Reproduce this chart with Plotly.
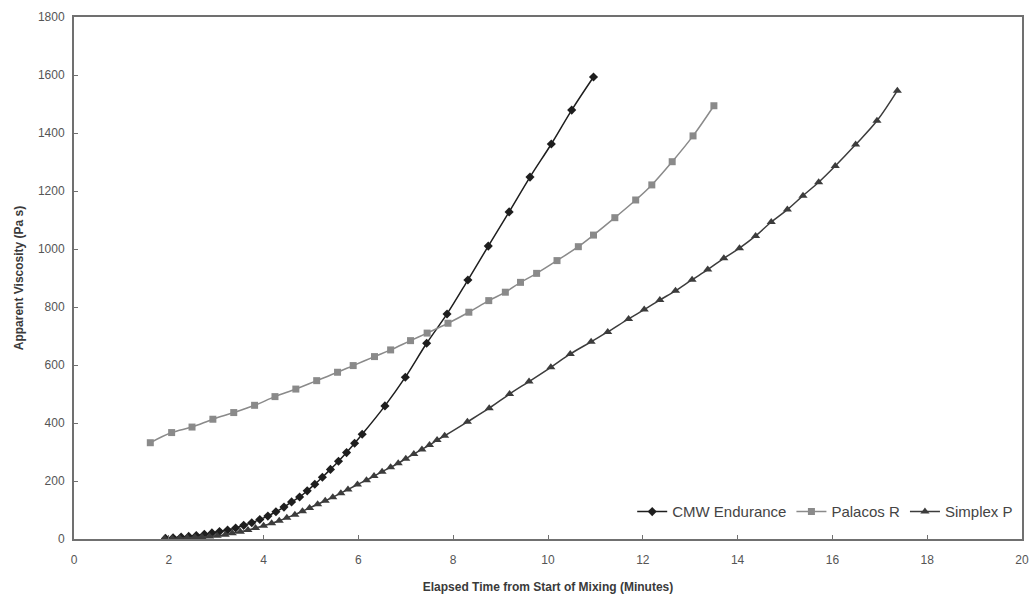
import plotly.graph_objects as go

# CMW Endurance
cmw_x = [1.93, 2.09, 2.26, 2.42, 2.58, 2.75, 2.91, 3.07, 3.24, 3.41, 3.58, 3.75, 3.92,
         4.09, 4.26, 4.43, 4.59, 4.76, 4.92, 5.08, 5.24, 5.41, 5.58, 5.75, 5.92, 6.08,
         6.56, 6.99, 7.44, 7.87, 8.31, 8.74, 9.18, 9.62, 10.07, 10.50, 10.96]
cmw_y = [2, 4, 7, 9, 12, 16, 21, 26, 31, 38, 47, 56, 67, 79, 94, 110, 128, 145, 166,
         189, 213, 240, 268, 298, 330, 361, 459, 558, 675, 776, 893, 1010, 1128, 1248,
         1362, 1479, 1593]

# Palacos R
pal_x = [1.61, 2.06, 2.49, 2.93, 3.37, 3.81, 4.24, 4.68, 5.12, 5.56, 5.89, 6.34, 6.68,
         7.10, 7.45, 7.89, 8.33, 8.75, 9.10, 9.42, 9.76, 10.19, 10.64, 10.96, 11.41,
         11.85, 12.19, 12.62, 13.06, 13.50]
pal_y = [332, 367, 386, 413, 436, 461, 491, 517, 546, 575, 598, 629, 652, 684, 710, 744,
         782, 822, 851, 885, 916, 960, 1008, 1048, 1108, 1169, 1221, 1301, 1390, 1494]

# Simplex P
sim_x = [1.91, 2.07, 2.23, 2.39, 2.55, 2.70, 2.86, 3.02, 3.19, 3.34, 3.51, 3.67, 3.83,
         4.00, 4.17, 4.33, 4.49, 4.66, 4.82, 4.97, 5.14, 5.30, 5.46, 5.63, 5.78, 5.98,
         6.17, 6.33, 6.50, 6.68, 6.84, 7.00, 7.17, 7.34, 7.50, 7.66, 7.82, 8.30, 8.76,
         9.19, 9.60, 10.06, 10.47, 10.91, 11.26, 11.70, 12.03, 12.36, 12.69, 13.04,
         13.37, 13.71, 14.04, 14.38, 14.71, 15.05, 15.38, 15.71, 16.06, 16.49, 16.94, 17.37]
sim_y = [2, 2, 3, 4, 6, 7, 9, 11, 15, 20, 25, 31, 38, 46, 54, 63, 73, 84, 96, 107, 120,
         132, 144, 158, 171, 188, 203, 217, 232, 247, 261, 277, 293, 309, 324, 341, 356,
         404, 451, 500, 543, 592, 638, 680, 714, 759, 791, 824, 856, 894, 929, 968, 1003,
         1045, 1093, 1136, 1184, 1230, 1286, 1360, 1442, 1546]

x_ticks = [0, 2, 4, 6, 8, 10, 12, 14, 16, 18, 20]
y_ticks = [0, 200, 400, 600, 800, 1000, 1200, 1400, 1600, 1800]

FONT = "Liberation Sans, Arial, sans-serif"

fig = go.Figure()
fig.add_trace(go.Scatter(
    x=cmw_x, y=cmw_y, name="CMW Endurance", mode="lines+markers",
    line=dict(color="#1e1e1e", width=1.5, shape="spline"),
    marker=dict(symbol="diamond", size=7, color="#1e1e1e")))
fig.add_trace(go.Scatter(
    x=pal_x, y=pal_y, name="Palacos R", mode="lines+markers",
    line=dict(color="#8a8a8a", width=1.5, shape="spline"),
    marker=dict(symbol="square", size=7, color="#8a8a8a")))
fig.add_trace(go.Scatter(
    x=sim_x, y=sim_y, name="Simplex P", mode="lines+markers",
    line=dict(color="#3c3c3c", width=1.5, shape="spline"),
    marker=dict(symbol="triangle-up", size=8, color="#3c3c3c")))

axis_common = dict(
    showgrid=False, zeroline=False, showline=True, linecolor="#707070", linewidth=2,
    mirror=True, ticks="inside", ticklen=4, tickcolor="#707070", tickwidth=1,
    tickfont=dict(family=FONT, size=12, color="#555555"), automargin=False,
)

fig.update_layout(
    width=1029, height=597,
    margin=dict(l=74, r=7, t=17, b=58),
    paper_bgcolor="white", plot_bgcolor="white",
    font=dict(family=FONT, color="#333333"),
    xaxis=dict(range=[0, 20], tickvals=x_ticks, ticktext=[str(v) for v in x_ticks],
               ticklabelstandoff=9,
               title=dict(text="<b>Elapsed Time from Start of Mixing (Minutes)</b>",
                          font=dict(family=FONT, size=12, color="#3a3a3a"), standoff=16),
               **axis_common),
    yaxis=dict(range=[0, 1800], tickvals=y_ticks, ticktext=[str(v) for v in y_ticks],
               ticklabelstandoff=5,
               title=dict(text="<b>Apparent Viscosity (Pa s)</b>",
                          font=dict(family=FONT, size=12, color="#3a3a3a"), standoff=12),
               **axis_common),
    legend=dict(orientation="h", x=0.996, xanchor="right", y=0.052, yanchor="middle",
                font=dict(family=FONT, size=15, color="#444444"),
                bgcolor="rgba(0,0,0,0)", itemwidth=30, tracegroupgap=0),
    showlegend=True,
)

fig.write_html("out.html")
